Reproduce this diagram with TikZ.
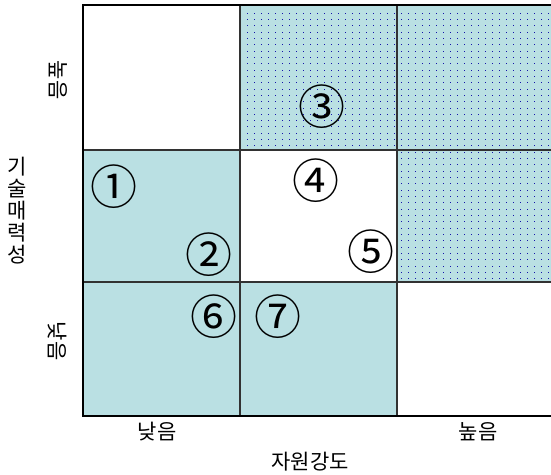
\documentclass[tikz,border=0pt]{standalone}
\usepackage{fontspec}
\setmainfont{Noto Sans CJK KR}
\definecolor{cellblue}{RGB}{186,224,227}
\definecolor{dotblue}{RGB}{20,20,170}
\definecolor{gridgray}{RGB}{50,50,50}
\begin{document}
\begin{tikzpicture}[x=1pt,y=-1pt,
  cell/.style={fill=cellblue,draw=none},
  gridline/.style={draw=gridgray,line width=1.1pt},
  axisline/.style={draw=black,line width=2.6pt},
  num/.style={font=\fontsize{47}{47}\selectfont,inner sep=0pt},
  lbl/.style={font=\fontsize{21}{21}\selectfont,inner sep=0pt},
  vlbl/.style={font=\fontsize{21}{21}\selectfont,inner sep=0pt,rotate=-90}]
\useasboundingbox (0,0) rectangle (551,474);
% cells
\fill[cellblue] (240,5) rectangle (551,150);
\fill[cellblue] (397,150) rectangle (551,282);
\fill[cellblue] (83,150) rectangle (240,416);
\fill[cellblue] (240,282) rectangle (397,416);
% dots
\foreach \i in {0,...,43} {
  \foreach \j in {0,...,21} {
    \fill[dotblue] (247+7*\i-0.45,13+6.33*\j-0.45) rectangle ++(0.9,0.9);
  }
}
\foreach \i in {22,...,43} {
  \foreach \j in {22,...,42} {
    \fill[dotblue] (247+7*\i-0.45,13+6.33*\j-0.45) rectangle ++(0.9,0.9);
  }
}
% grid
\coordinate (g1t) at (240,5); \coordinate (g1b) at (240,416);
\coordinate (g2t) at (397,5); \coordinate (g2b) at (397,416);
\coordinate (h1l) at (83,150); \coordinate (h1r) at (551,150);
\coordinate (h2l) at (83,282); \coordinate (h2r) at (551,282);
\draw[gridline] (g1t) -- (g1b);
\draw[gridline] (g2t) -- (g2b);
\draw[gridline] (h1l) -- (h1r);
\draw[gridline] (h2l) -- (h2r);
% axes
\coordinate (tl) at (83,5); \coordinate (tr) at (552,5);
\coordinate (bl) at (83,416); \coordinate (br) at (552,416);
\draw[axisline] (tr) -- (tl) -- (bl) -- (br);
% numbers
\node[num] (n1) at (114,187) {①};
\node[num] (n2) at (209,255) {②};
\node[num] (n3) at (322,107) {③};
\node[num] (n4) at (316,181) {④};
\node[num] (n5) at (371,252) {⑤};
\node[num] (n6) at (214,317) {⑥};
\node[num] (n7) at (278,317) {⑦};
% labels
\node[vlbl] (yhigh) at (58,80) {높음};
\node[vlbl] (ylow) at (57,341) {낮음};
\node[lbl,align=center] (ytitle) at (17,211) {기\\[1pt]술\\[1pt]매\\[1pt]력\\[1pt]성};
\node[lbl] (xlow) at (157,432) {낮음};
\node[lbl] (xhigh) at (478,432) {높음};
\node[lbl] (xtitle) at (310,462) {자원강도};
\end{tikzpicture}
\end{document}
